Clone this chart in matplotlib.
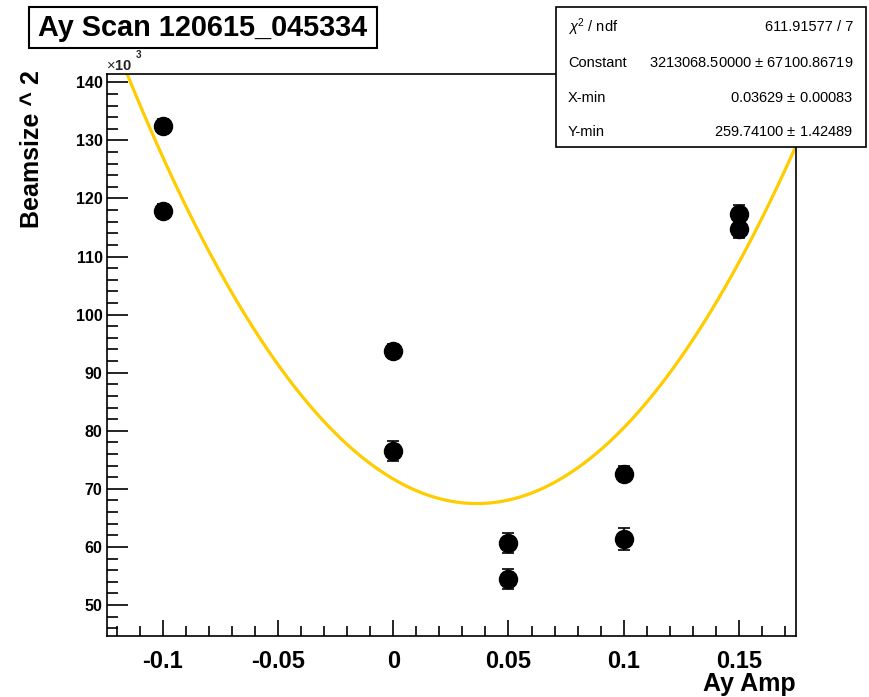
import numpy as np
import matplotlib
matplotlib.use("Agg")
import matplotlib.pyplot as plt
from matplotlib.patches import Rectangle
from matplotlib.ticker import MultipleLocator

plt.rcParams['font.family'] = ['Liberation Sans', 'DejaVu Sans']
plt.rcParams['mathtext.fontset'] = 'custom'
plt.rcParams['mathtext.rm'] = 'Liberation Sans'
plt.rcParams['mathtext.it'] = 'Liberation Sans:italic'
plt.rcParams['mathtext.bf'] = 'Liberation Sans:bold'

# Scan data: Ay amplitude vs beamsize^2 (in units of 10^3)
ay_amp = [-0.1, -0.1, 0.0, 0.0, 0.05, 0.05, 0.1, 0.1, 0.15, 0.15]
beamsize_sq = [132.4, 117.8, 93.7, 76.5, 60.7, 54.5, 72.6, 61.3, 117.3, 114.8]
beamsize_sq_err = [1.2, 1.2, 1.2, 1.7, 1.7, 1.7, 1.3, 1.9, 1.6, 1.6]

# Parabola fit parameters
fit_constant = 3213068.50000
fit_constant_err = 67100.86719
fit_xmin = 0.03629
fit_xmin_err = 0.00083
fit_ymin = 259.74100
fit_ymin_err = 1.42489
fit_chi2 = 611.91577
fit_ndf = 7

title = "Ay Scan 120615_045334"
x_label = "Ay Amp"
y_label = "Beamsize ^ 2"

W, H = 869, 697
fig = plt.figure(figsize=(W / 100, H / 100), dpi=100)


def fx(px):
    return px / W


def fy(py):
    return 1 - py / H


left, right, top, bottom = 106.7, 795.7, 74.0, 635.7
ax = fig.add_axes([fx(left), fy(bottom), fx(right) - fx(left), fy(top) - fy(bottom)])

# Fitted curve
xs = np.linspace(-0.1243, 0.1746, 400)
ys = (fit_constant * (xs - fit_xmin) ** 2 + fit_ymin ** 2) / 1e3
ax.plot(xs, ys, color='#ffcc00', lw=2.3, zorder=2)

# Data points with error bars
ax.errorbar(ay_amp, beamsize_sq, yerr=beamsize_sq_err, fmt='o', color='black',
            ms=13, elinewidth=1.2, capsize=4, capthick=1.2, zorder=3)

ax.set_xlim(-0.1243, 0.1746)
ax.set_ylim(44.71, 141.43)

ax.xaxis.set_major_locator(MultipleLocator(0.05))
ax.xaxis.set_minor_locator(MultipleLocator(0.01))
ax.yaxis.set_major_locator(MultipleLocator(10))
ax.yaxis.set_minor_locator(MultipleLocator(2))

ax.set_xticks([-0.1, -0.05, 0, 0.05, 0.1, 0.15])
ax.set_xticklabels(['-0.1', '-0.05', '0', '0.05', '0.1', '0.15'])

ax.tick_params(axis='both', which='both', direction='in', top=False, right=False,
               width=1.2, color='black')
ax.tick_params(axis='y', which='major', length=15, pad=3, labelsize=11.5)
ax.tick_params(axis='y', which='minor', length=8)
ax.tick_params(axis='x', which='major', length=11.5, pad=10.5, labelsize=17)
ax.tick_params(axis='x', which='minor', length=7)
for lab in ax.get_xticklabels() + ax.get_yticklabels():
    lab.set_fontweight('bold')
for sp in ax.spines.values():
    sp.set_linewidth(1.2)

# Axis titles
fig.text(fx(796), fy(684), x_label, ha='right', va='center', fontsize=18,
         fontweight='bold')
fig.text(fx(32), fy(70), y_label, ha='center', va='top', rotation=90,
         fontsize=18, fontweight='bold')
fig.text(fx(106), fy(66), r'$\times$10', ha='left', va='center', fontsize=10.5,
         fontweight='bold', color='#222222')
fig.text(fx(136), fy(55), '3', ha='left', va='center', fontsize=7,
         fontweight='bold', color='#222222')

# Title box
fig.add_artist(Rectangle((fx(28.5), fy(48)), fx(377) - fx(28.5), fy(7) - fy(48),
                         transform=fig.transFigure, facecolor='white',
                         edgecolor='black', lw=1.5, zorder=5))
fig.text(fx(203), fy(28), title, ha='center', va='center', fontsize=20.8,
         fontweight='bold', zorder=6)

# Statistics box
fig.add_artist(Rectangle((fx(556), fy(147)), fx(866) - fx(556), fy(7) - fy(147),
                         transform=fig.transFigure, facecolor='white',
                         edgecolor='black', lw=1.2, zorder=5))
rows = [
    (r'$\chi^{2}$ / ndf', f'{fit_chi2:.5f} / {fit_ndf}'),
    ('Constant', f'{fit_constant:.5f} $\\pm$ {fit_constant_err:.5f}'),
    ('X-min', f'{fit_xmin:.5f} $\\pm$ {fit_xmin_err:.5f}'),
    ('Y-min', f'{fit_ymin:.5f} $\\pm$ {fit_ymin_err:.5f}'),
]
row_y = [27, 63, 98, 132]
for (lab, val), py in zip(rows, row_y):
    fig.text(fx(568), fy(py), lab, ha='left', va='center', fontsize=10.5, zorder=6)
    fig.text(fx(853), fy(py), val, ha='right', va='center', fontsize=10.5, zorder=6)

fig.savefig('out.png', dpi=100)
